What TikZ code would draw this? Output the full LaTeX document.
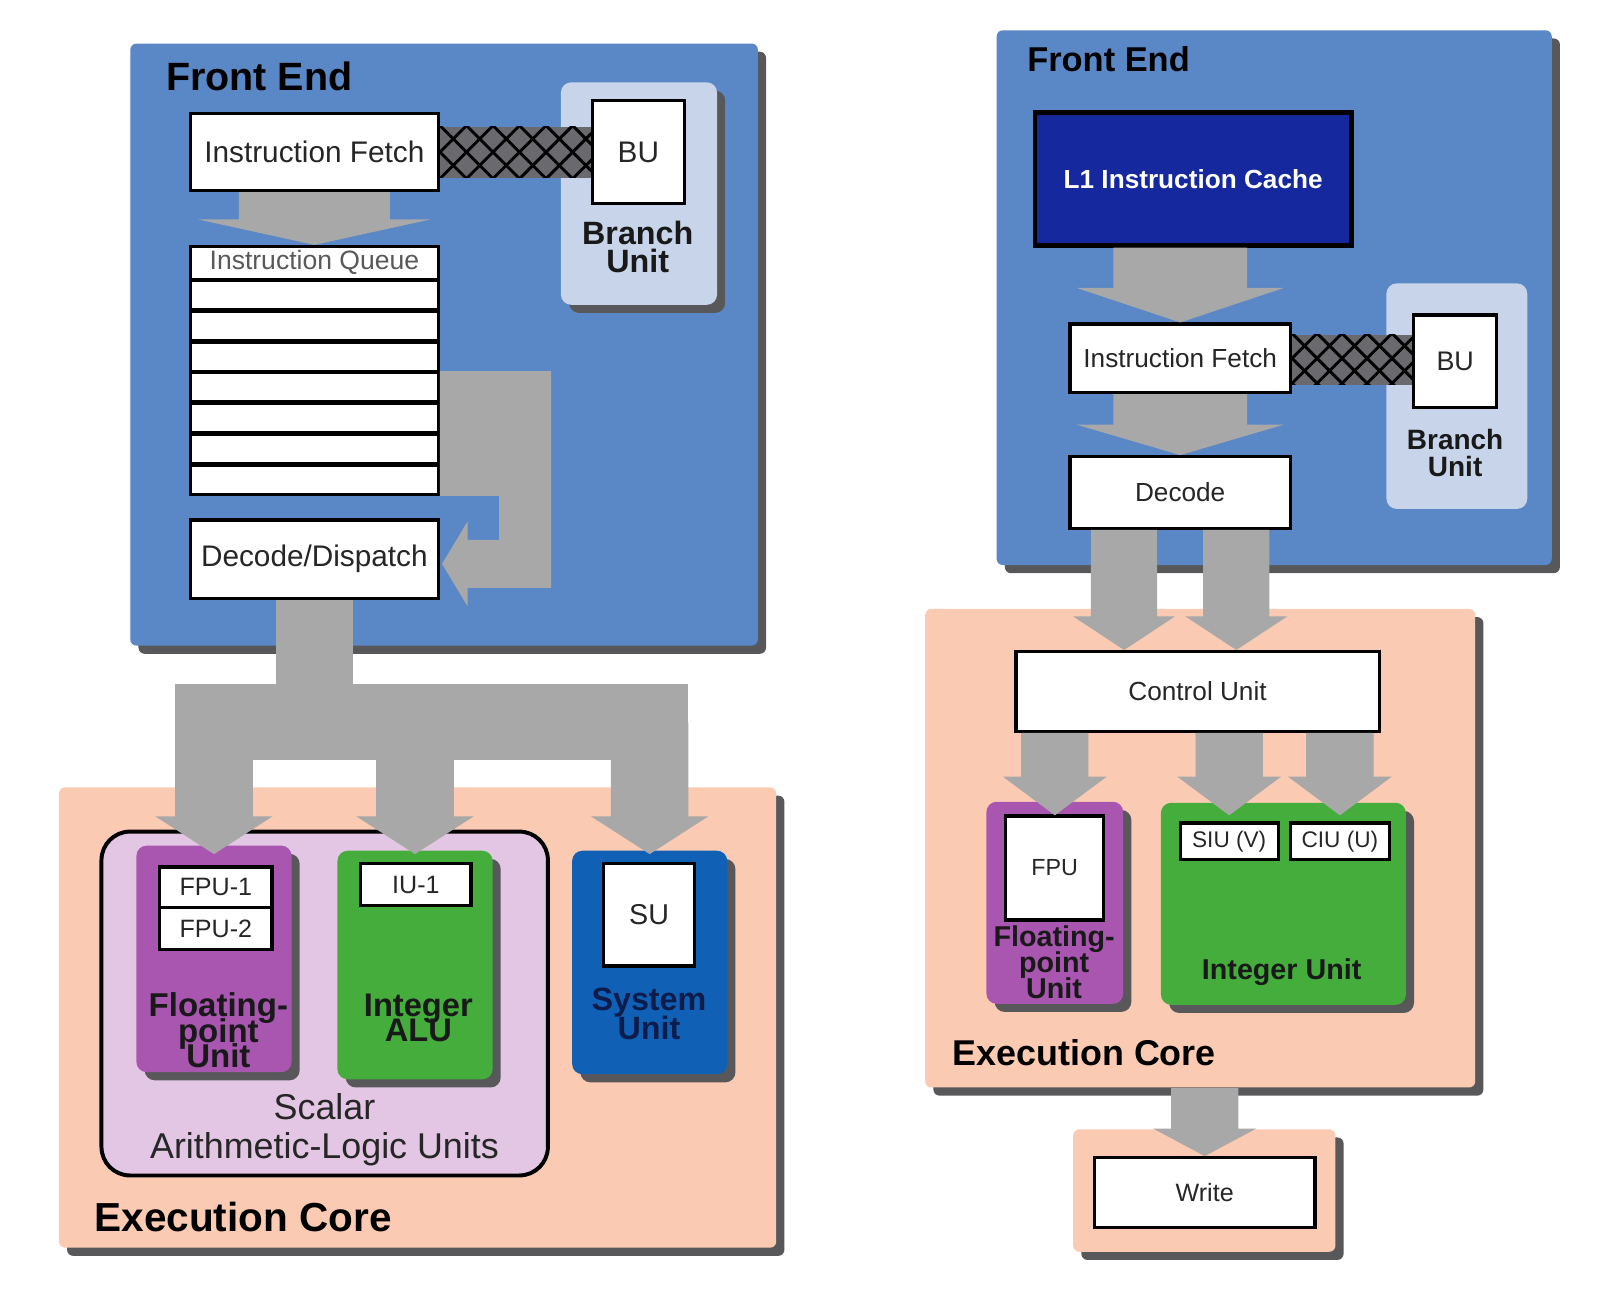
\documentclass[tikz,border=0pt]{standalone}
\usepackage{fontspec}
\setmainfont{Liberation Sans}
\usetikzlibrary{positioning, calc, shadows}

\definecolor{feblue}{RGB}{90,135,197}
\definecolor{bulight}{RGB}{200,212,234}
\definecolor{flowgray}{RGB}{168,168,168}
\definecolor{hatchgray}{RGB}{105,105,110}
\definecolor{peach}{RGB}{251,202,178}
\definecolor{lavender}{RGB}{227,198,228}
\definecolor{fpupurple}{RGB}{168,86,176}
\definecolor{intgreen}{RGB}{68,173,60}
\definecolor{sysblue}{RGB}{16,96,182}
\definecolor{cachenavy}{RGB}{22,40,158}
\definecolor{shadowgray}{RGB}{88,88,90}
\definecolor{navytext}{RGB}{12,28,75}

% tight bold labels, lines may overlap
\newcommand{\tightbold}[2]{\bfseries\fontsize{#1}{#2}\selectfont\lineskiplimit=-50pt\relax}

% block arrow pointing down: start, tip, shaft half width, head half width, head length
\newcommand{\flowdown}[5]{%
  \fill[flow] ($(#1)+(-#3,0)$) -- ($(#1)+(#3,0)$) -- ($(#2)+(#3,#5)$) -- ($(#2)+(#4,#5)$)
    -- (#2) -- ($(#2)+(-#4,#5)$) -- ($(#2)+(-#3,#5)$) -- cycle;}

% cross-hatched band between two nodes: from, to, half height, pitch
\newcommand{\hatchlink}[4]{%
  \begin{scope}
    \clip ($(#1.east)+(0,#3)$) rectangle ($(#2.west)+(0,-#3)$);
    \fill[hatchgray] ($(#1.east)+(0,#3)$) rectangle ($(#2.west)+(0,-#3)$);
    \foreach \k in {-1,...,8}{
      \draw[hatchline] ($(#1.east)+(\k*#4-0.6,-0.6)$) -- ++(1.2,1.2);
      \draw[hatchline] ($(#1.east)+(\k*#4-0.6,0.6)$) -- ++(1.2,-1.2);
    }
  \end{scope}}

\begin{document}
\begin{tikzpicture}[
    panel/.style={anchor=north west, inner sep=0pt, rounded corners=0.06cm,
      drop shadow={shadow xshift=0.08cm, shadow yshift=-0.08cm, fill=shadowgray, opacity=1}},
    unitbox/.style={panel, rounded corners=0.1cm},
    stagebox/.style={anchor=north west, draw=black, line width=0.9pt, fill=white, inner sep=0pt, text=black!85},
    leftfont/.style={font=\fontsize{8.3}{10}\selectfont},
    rightfont/.style={font=\fontsize{7.3}{9}\selectfont},
    paneltitle/.style={anchor=west, inner sep=0pt, text=black},
    unitlabel/.style={align=center, inner sep=0pt, text=black!90},
    flow/.style={fill=flowgray},
    hatchline/.style={draw=black, line width=0.8pt},
  ]
  \useasboundingbox (0,0) rectangle (15.68,-12.72);
  \fill[white] (0,0) rectangle (15.68,-12.72);

  % ---------------- left: front end
  \node[panel, fill=feblue, minimum width=6.15cm, minimum height=5.9cm] (feL) at (1.27,-0.42) {};
  \node[paneltitle, font=\fontsize{11}{12}\selectfont\bfseries] (feLt) at (1.62,-0.75) {Front End};
  \node[panel, fill=bulight, rounded corners=0.1cm, minimum width=1.53cm, minimum height=2.18cm] (buL) at (5.49,-0.80) {};
  \node[stagebox, leftfont, minimum width=0.90cm, minimum height=1.01cm] (buboxL) at (5.79,-0.97) {BU};
  \node[unitlabel, font=\tightbold{9}{7.9}] (buLt) at (6.25,-2.42) {Branch\\Unit};
  \node[stagebox, leftfont, minimum width=2.43cm, minimum height=0.75cm] (ifL) at (1.85,-1.10) {Instruction Fetch};
  \node[stagebox, font=\fontsize{7.4}{9}\selectfont, text=black!65, minimum width=2.43cm, minimum height=0.32cm] (iq) at (1.85,-2.40) {Instruction Queue};
  \node[stagebox, below=-0.5pt of iq, minimum width=2.43cm, minimum height=0.287cm] (q1) {};
  \foreach \r [count=\p from 1] in {2,...,7}
    \node[stagebox, below=-0.5pt of q\p, minimum width=2.43cm, minimum height=0.287cm] (q\r) {};
  \node[stagebox, leftfont, minimum width=2.43cm, minimum height=0.77cm] (ddL) at (1.85,-5.08) {Decode/Dispatch};
  \hatchlink{ifL}{buboxL}{0.25}{0.26}

  % ---------------- left: execution core
  \node[panel, fill=peach, minimum width=7.03cm, minimum height=4.51cm] (exL) at (0.57,-7.71) {};
  \node[paneltitle, font=\fontsize{11.3}{12}\selectfont\bfseries] (exLt) at (0.92,-11.93) {Execution Core};
  \node[anchor=north west, draw=black, line width=1.1pt, fill=lavender, rounded corners=0.28cm,
    minimum width=4.375cm, minimum height=3.37cm] (alu) at (0.975,-8.13) {};
  \node[unitlabel, font=\fontsize{10}{10.8}\selectfont, text=black!85] (alut) at (3.18,-11.07) {Scalar\\Arithmetic-Logic Units};

  \node[unitbox, fill=fpupurple, minimum width=1.52cm, minimum height=2.22cm] (fpL) at (1.33,-8.28) {};
  \node[stagebox, font=\fontsize{7}{8}\selectfont, minimum width=1.10cm, minimum height=0.40cm] (fpu1) at (1.55,-8.48) {FPU-1};
  \node[stagebox, font=\fontsize{7}{8}\selectfont, minimum width=1.10cm, minimum height=0.41cm] (fpu2) at (1.55,-8.88) {FPU-2};
  \node[unitlabel, font=\tightbold{9.2}{7.1}] (fpLt) at (2.14,-10.10) {Floating-\\point\\Unit};

  \node[unitbox, fill=intgreen, minimum width=1.52cm, minimum height=2.24cm] (iaL) at (3.30,-8.33) {};
  \node[stagebox, font=\fontsize{7}{8}\selectfont, minimum width=1.08cm, minimum height=0.41cm] (iu1) at (3.52,-8.45) {IU-1};
  \node[unitlabel, font=\tightbold{9.1}{7.1}] (iaLt) at (4.10,-9.975) {Integer\\ALU};

  \node[unitbox, fill=sysblue, minimum width=1.52cm, minimum height=2.19cm] (suL) at (5.60,-8.33) {};
  \node[stagebox, font=\fontsize{8}{9}\selectfont, minimum width=0.89cm, minimum height=1.00cm] (subox) at (5.90,-8.45) {SU};
  \node[unitlabel, text=navytext, font=\tightbold{9}{7.9}] (suLt) at (6.36,-9.935) {System\\Unit};

  % ---------------- left: flows
  \flowdown{ifL.south}{iq.north}{0.74}{1.14}{0.25}
  \fill[flow] (q4.north east) -- ++(1.09,0) |- ($(ddL.east)+(0.27,-0.28)$) -- ++(0,-0.18)
    -- ($(ddL.east)+(0.02,-0.045)$) -- ++(0.25,0.415) -- ++(0,-0.18) -- ++(0.31,0)
    |- (q7.south east) -- cycle;
  \fill[flow] ($(ddL.south)+(-0.375,0)$) rectangle ($(ddL.south)+(0.375,-1.0)$);
  \fill[flow] ($(fpL.north)+(-0.38,1.58)$) rectangle ($(suL.north)+(0.38,0.88)$);
  \coordinate (busL) at ($(ddL.south)+(0,-1.2)$);
  \foreach \u [count=\i] in {fpL, iaL, suL}{
    \coordinate (b\i) at (\u.north |- busL);
    \coordinate (lvL\i) at (\u.north |- fpL.north);
    \coordinate (h\i) at ($(lvL\i)+(0,-0.09)$);
    \flowdown{b\i}{h\i}{0.38}{0.575}{0.37}
  }

  % ---------------- right: front end
  \node[panel, fill=feblue, minimum width=5.44cm, minimum height=5.24cm] (feR) at (9.76,-0.29) {};
  \node[paneltitle, font=\fontsize{9.6}{11}\selectfont\bfseries] (feRt) at (10.06,-0.58) {Front End};
  \node[anchor=north west, draw=black, line width=1.3pt, fill=cachenavy, text=white, inner sep=0pt,
    minimum width=3.10cm, minimum height=1.30cm, font=\fontsize{7.3}{9}\selectfont\bfseries] (l1) at (10.12,-1.08) {L1 Instruction Cache};
  \node[anchor=north west, fill=bulight, rounded corners=0.1cm, inner sep=0pt,
    minimum width=1.38cm, minimum height=2.21cm] (buR) at (13.58,-2.77) {};
  \node[stagebox, font=\fontsize{7.5}{9}\selectfont, minimum width=0.81cm, minimum height=0.91cm] (buboxR) at (13.84,-3.07) {BU};
  \node[unitlabel, font=\tightbold{7.8}{7.4}] (buRt) at (14.26,-4.44) {Branch\\Unit};
  \node[stagebox, rightfont, minimum width=2.16cm, minimum height=0.67cm] (ifR) at (10.47,-3.16) {Instruction Fetch};
  \node[stagebox, rightfont, minimum width=2.16cm, minimum height=0.70cm] (dcR) at (10.47,-4.46) {Decode};
  \hatchlink{ifR}{buboxR}{0.23}{0.245}

  % ---------------- right: execution core
  \node[panel, fill=peach, minimum width=5.39cm, minimum height=4.69cm] (exR) at (9.06,-5.96) {};
  \node[paneltitle, font=\fontsize{10}{11}\selectfont\bfseries] (exRt) at (9.33,-10.32) {Execution Core};
  \node[stagebox, rightfont, minimum width=3.56cm, minimum height=0.78cm] (cu) at (9.94,-6.37) {Control Unit};

  \node[unitbox, fill=fpupurple, minimum width=1.34cm, minimum height=1.98cm] (fpR) at (9.66,-7.85) {};
  \node[stagebox, font=\fontsize{6.5}{8}\selectfont, minimum width=0.96cm, minimum height=1.02cm] (fpubox) at (9.84,-7.98) {FPU};
  \node[unitlabel, font=\tightbold{8}{7.2}] (fpRt) at (10.33,-9.43) {Floating-\\point\\Unit};

  \node[unitbox, fill=intgreen, minimum width=2.40cm, minimum height=1.98cm] (iuR) at (11.37,-7.86) {};
  \node[stagebox, font=\fontsize{6.3}{8}\selectfont, minimum width=0.96cm, minimum height=0.36cm] (siu) at (11.55,-8.05) {SIU (V)};
  \node[stagebox, font=\fontsize{6.3}{8}\selectfont, minimum width=0.97cm, minimum height=0.36cm] (ciu) at (12.63,-8.05) {CIU (U)};
  \node[unitlabel, font=\fontsize{8}{9}\selectfont\bfseries] (iuRt) at (12.56,-9.53) {Integer Unit};

  \node[panel, fill=peach, minimum width=2.57cm, minimum height=1.20cm] (wrp) at (10.51,-11.06) {};
  \node[stagebox, font=\fontsize{7}{9}\selectfont, minimum width=2.16cm, minimum height=0.68cm] (wr) at (10.71,-11.33) {Write};

  % ---------------- right: flows
  \coordinate (l1out) at (ifR.north |- l1.south);
  \flowdown{l1out}{ifR.north}{0.655}{1.02}{0.34}
  \flowdown{ifR.south}{dcR.north}{0.655}{1.02}{0.30}
  \coordinate (d1) at ($(dcR.south)+(-0.55,0)$);
  \coordinate (d2) at ($(dcR.south)+(0.55,0)$);
  \coordinate (c1) at (d1 |- cu.north);
  \coordinate (c2) at (d2 |- cu.north);
  \flowdown{d1}{c1}{0.325}{0.50}{0.33}
  \flowdown{d2}{c2}{0.325}{0.50}{0.33}
  \foreach \u [count=\i] in {fpR, siu, ciu}{
    \coordinate (s\i) at (\u.north |- cu.south);
    \coordinate (lvR\i) at (\u.north |- fpR.north);
    \coordinate (t\i) at ($(lvR\i)+(0,-0.14)$);
    \flowdown{s\i}{t\i}{0.33}{0.51}{0.38}
  }
  \coordinate (exout) at (wr.north |- exR.south);
  \flowdown{exout}{wr.north}{0.33}{0.505}{0.27}
\end{tikzpicture}
\end{document}
